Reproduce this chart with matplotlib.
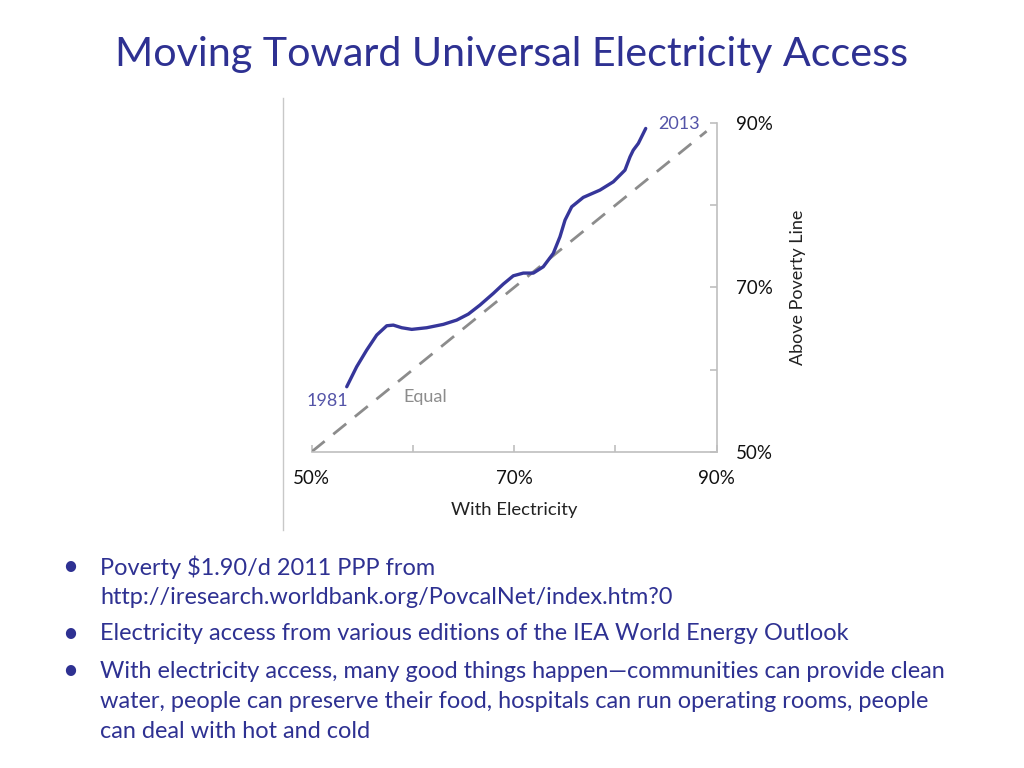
import matplotlib
matplotlib.use("Agg")
import matplotlib.pyplot as plt
from matplotlib.lines import Line2D

plt.rcParams['font.family'] = ['Lato', 'DejaVu Sans']

# electricity access (%) vs population above poverty line (%), 1981 -> 2013
elec = [53.46, 54.44, 55.43, 56.42, 57.41, 58.06, 58.89, 59.88, 61.36, 63.00,
        64.32, 65.47, 66.62, 67.94, 68.92, 69.91, 70.90, 71.89, 72.87, 73.86,
        74.52, 75.02, 75.68, 76.82, 78.47, 79.79, 80.94, 81.44, 81.76, 82.26,
        82.99]
above_pov = [57.91, 60.34, 62.37, 64.20, 65.33, 65.41, 65.09, 64.89, 65.09,
             65.50, 66.02, 66.75, 67.85, 69.27, 70.40, 71.41, 71.74, 71.74,
             72.51, 74.14, 76.16, 78.19, 79.81, 80.95, 81.84, 82.85, 84.27,
             85.89, 86.70, 87.52, 89.34]
equal_line = [50, 89]
tick_major = [50, 70, 90]
tick_minor = [60, 80]
tick_labels = ["50%", "70%", "90%"]

title_col = "#2E3192"
line_col = "#36369A"
grey = "#8C8C8C"
spine_col = "#BFBFBF"

fig = plt.figure(figsize=(10.24, 7.68), dpi=100)
fig.text(0.5, 0.929, "Moving Toward Universal Electricity Access", ha="center",
         va="center", fontsize=29.7, color=title_col)

# picture border line at left of chart image
fig.add_artist(Line2D([283/1024, 283/1024], [1-98/768, 1-530/768],
                      color="#C8C8C8", lw=1))

ax = fig.add_axes([0.3044, 0.4118, 0.3955, 0.428])
ax.plot(equal_line, equal_line, color=grey, lw=2, dashes=(6, 4))
ax.plot(elec, above_pov, color=line_col, lw=2.4, solid_capstyle="round",
        solid_joinstyle="round")
ax.set_xlim(50, 90)
ax.set_ylim(50, 90)

for s in ["top", "left"]:
    ax.spines[s].set_visible(False)
for s in ["bottom", "right"]:
    ax.spines[s].set_color(spine_col)
    ax.spines[s].set_linewidth(1.2)

ax.set_xticks(tick_major)
ax.set_xticks(tick_minor, minor=True)
ax.set_xticklabels(tick_labels)
ax.set_yticks(tick_major)
ax.set_yticks(tick_minor, minor=True)
ax.set_yticklabels(tick_labels)
ax.yaxis.tick_right()
ax.yaxis.set_label_position("right")
ax.tick_params(axis="both", which="both", direction="in", length=5,
               color=spine_col, width=1.2, labelsize=13.5, labelcolor="#111111")
ax.tick_params(axis="x", which="major", pad=13)
ax.tick_params(axis="y", which="major", pad=14)
ax.set_xlabel("With Electricity", fontsize=13.3, color="#222222", labelpad=11)
ax.set_ylabel("Above Poverty Line", fontsize=13, color="#222222",
              labelpad=12, rotation=90)

ax.text(elec[-1] + 1.2, above_pov[-1] + 0.6, "2013", color="#5454A8",
        fontsize=13, va="center", ha="left")
ax.text(51.5, 56.17, "1981", color="#5454A8", fontsize=13, va="center",
        ha="center")
ax.text(61.2, 56.65, "Equal", color=grey, fontsize=13, va="center", ha="center")

# bullet notes
bullets = [
    ["Poverty $1.90/d 2011 PPP from",
     "http://iresearch.worldbank.org/PovcalNet/index.htm?0"],
    ["Electricity access from various editions of the IEA World Energy Outlook"],
    ["With electricity access, many good things happen\u2014communities can provide clean",
     "water, people can preserve their food, hospitals can run operating rooms, people",
     "can deal with hot and cold"],
]
line_ys = [[567, 598], [634], [671, 701, 732]]
for lines, ys in zip(bullets, line_ys):
    fig.text(70/1024, 1-ys[0]/768, "\u2022", fontsize=20, color=title_col,
             ha="center", va="center")
    for t, y in zip(lines, ys):
        fig.text(100/1024, 1-y/768, t, fontsize=16.9, color=title_col,
                 ha="left", va="center")

fig.savefig("out.png", dpi=100, facecolor="white")
